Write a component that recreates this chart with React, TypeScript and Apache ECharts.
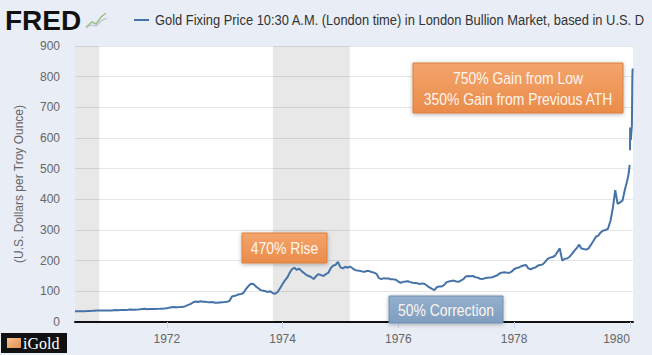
import React, { useEffect, useRef } from 'react';
import * as echarts from 'echarts';

const titleText = 'Gold Fixing Price 10:30 A.M. (London time) in London Bullion Market, based in U.S. D';
const yAxisName = '(U.S. Dollars per Troy Ounce)';
const xTickYears = [1972, 1974, 1976, 1978, 1980];

// half-monthly samples (1st and 16th of each month)
const p1970 = [35.4, 35.3, 35.3, 35.4, 35.4, 35.5, 35.9, 36.3, 36.9, 37.4, 37.5, 37.6, 37.4, 37.4]; // from June
const p1971 = [37.6, 37.9, 38.4, 38.8, 38.7, 38.9, 39.0, 39.2, 39.8, 40.8, 40.3, 40.1, 40.6, 41.5, 42.6, 43.1, 41.6, 42.0, 42.3, 42.7, 42.8, 43.0, 43.3, 43.8];
const p1972 = [44.8, 46.8, 48.0, 48.6, 48.2, 48.5, 49.0, 49.4, 52.5, 56.0, 59.0, 64.5, 66.8, 65.0, 67.6, 66.2, 65.8, 64.8, 64.5, 65.3, 63.0, 62.6, 63.6, 64.6];
const p1973 = [65.2, 66.0, 69.0, 83.0, 84.5, 87.0, 90.5, 91.0, 96.0, 108.0, 118.0, 125.0, 124.0, 116.0, 110.0, 104.0, 102.0, 100.0, 98.0, 100.5, 94.0, 92.0, 98.0, 110.0];
const p1974 = [124, 136, 146, 162, 172, 177, 170, 174, 166, 160, 153, 150, 146, 140, 150, 156, 153, 150, 156, 160, 176, 184, 186, 196];
const p1975 = [178, 175, 180, 177, 181, 176, 170, 168, 167, 165, 164, 166, 166, 163, 161, 157, 143, 140, 143, 142, 142, 139, 139, 138];
const p1976 = [132, 128, 131, 132, 133, 130, 128, 127, 126, 124, 126, 124, 118, 113, 108, 104, 114, 116, 116, 120, 130, 132, 134, 135];
const p1977 = [132, 131, 136, 140, 148, 150, 149, 150, 146, 145, 141, 140, 143, 144, 145, 146, 149, 152, 158, 161, 162, 161, 160, 164];
const p1978 = [172, 176, 178, 182, 184, 186, 175, 172, 176, 178, 184, 186, 188, 196, 206, 210, 212, 216, 228, 240, 200, 206, 207, 212];
const p1979 = [222, 232, 242, 252, 240, 238, 236, 240, 252, 264, 278, 282, 292, 298, 300, 304, 330, 372, 430, 385, 390, 396, 432, 462];

// final daily stretch
const finalDates = ['1979-12-24', '1979-12-31', '1980-01-01', '1980-01-02', '1980-01-03', '1980-01-07', '1980-01-10', '1980-01-14', '1980-01-16', '1980-01-17', '1980-01-18', '1980-01-21'];
const finalPrices: (number | null)[] = [482, 512, null, 560, 634, 593, 615, 640, 750, 800, 822, 826];

const recessionStarts = ['1970-06-01', '1973-11-01'];
const recessionEnds = ['1970-11-01', '1975-03-01'];

const yearBlocks: [number, number, number[]][] = [
  [1970, 6, p1970], [1971, 1, p1971], [1972, 1, p1972], [1973, 1, p1973], [1974, 1, p1974],
  [1975, 1, p1975], [1976, 1, p1976], [1977, 1, p1977], [1978, 1, p1978], [1979, 1, p1979],
];

function toYear(s: string): number {
  const d = new Date(s + 'T00:00:00Z');
  const y = d.getUTCFullYear();
  const start = Date.UTC(y, 0, 1);
  const end = Date.UTC(y + 1, 0, 1);
  return y + (d.getTime() - start) / (end - start);
}

function buildData(): [number, number | null][] {
  const out: [number, number | null][] = [];
  for (const [yr, m0, arr] of yearBlocks) {
    arr.forEach((v, i) => {
      const m = m0 + Math.floor(i / 2);
      const day = i % 2 ? 16 : 1;
      const s = `${yr}-${String(m).padStart(2, '0')}-${String(day).padStart(2, '0')}`;
      if (s < finalDates[0]) out.push([toYear(s), v]);
    });
  }
  finalDates.forEach((s, i) => out.push([toYear(s), finalPrices[i]]));
  return out;
}

const SANS = "'Liberation Sans', Arial, sans-serif";

function box(x: number, y: number, w: number, h: number, text: string, top: string, bottom: string, border: string, lineHeight = 20) {
  return {
    type: 'group',
    children: [
      {
        type: 'rect',
        shape: { x, y, width: w, height: h },
        style: {
          fill: new echarts.graphic.LinearGradient(0, 0, 0, 1, [
            { offset: 0, color: top },
            { offset: 1, color: bottom },
          ]),
          stroke: border,
          lineWidth: 1,
          shadowBlur: 4,
          shadowOffsetY: 1,
          shadowColor: 'rgba(0,0,0,0.3)',
        },
        z: 100,
      },
      {
        type: 'text',
        x: x + w / 2,
        y: y + h / 2,
        scaleX: 0.82,
        style: {
          text,
          fill: '#fdf6f0',
          font: `17px ${SANS}`,
          align: 'center',
          verticalAlign: 'middle',
          lineHeight,
        },
        z: 101,
      },
    ],
  };
}

export default function App() {
  const ref = useRef<HTMLDivElement>(null);
  useEffect(() => {
    if (!ref.current) return;
    const chart = echarts.init(ref.current, undefined, { renderer: 'svg' });
    const data = buildData();
    chart.setOption({
      animation: false,
      backgroundColor: '#e9edf5',
      grid: {
        left: 75, right: 19, top: 46, bottom: 33,
        show: true, backgroundColor: '#ffffff', borderWidth: 0,
      },
      xAxis: {
        type: 'value',
        min: toYear('1970-06-01'),
        max: toYear('1980-01-21'),
        splitLine: { show: false },
        axisLine: { show: true, onZero: true, lineStyle: { color: '#111', width: 2 } },
        axisTick: { show: true, customValues: xTickYears, length: 6, lineStyle: { color: '#ccd6eb' } },
        axisLabel: {
          customValues: xTickYears,
          formatter: (v: number) => String(Math.round(v)),
          color: '#666',
          fontSize: 12,
          fontFamily: SANS,
          margin: 11,
          alignMaxLabel: 'right',
        },
      },
      yAxis: {
        type: 'value',
        min: 0,
        max: 900,
        interval: 100,
        name: yAxisName,
        nameLocation: 'middle',
        nameGap: 50,
        nameTextStyle: { color: '#666', fontSize: 12, fontFamily: SANS },
        axisLine: { show: false },
        axisTick: { show: false },
        axisLabel: { color: '#666', fontSize: 12, fontFamily: SANS, margin: 15 },
        splitLine: { lineStyle: { color: '#e6e6e6' } },
      },
      series: [
        {
          type: 'line',
          data,
          showSymbol: false,
          connectNulls: false,
          lineStyle: { color: '#4572a7', width: 2 },
          markArea: {
            silent: true,
            itemStyle: { color: 'rgba(0,0,0,0.09)' },
            data: recessionStarts.map((s, i) => [
              { xAxis: toYear(s) },
              { xAxis: toYear(recessionEnds[i]) },
            ]),
          },
        },
      ],
      graphic: [
        {
          type: 'text', x: 5, y: 6,
          style: { text: 'FRED', font: `bold 28px ${SANS}`, fill: '#111' },
        },
        {
          type: 'polyline',
          shape: { points: [[86, 27], [92, 22], [96, 24], [101, 17], [106, 13]] },
          style: { stroke: '#9fbf8a', lineWidth: 1.5, fill: 'none' },
        },
        {
          type: 'polyline',
          shape: { points: [[86, 28], [91, 25], [96, 26], [101, 21], [107, 18]] },
          style: { stroke: '#b9c4cc', lineWidth: 1.2, fill: 'none' },
        },
        {
          type: 'line',
          shape: { x1: 134, y1: 20, x2: 149, y2: 20 },
          style: { stroke: '#4572a7', lineWidth: 2 },
        },
        {
          type: 'text', x: 155, y: 20, scaleX: 0.86,
          style: { text: titleText, font: `15px ${SANS}`, fill: '#333', verticalAlign: 'middle' },
        },
        box(242, 233, 85, 30, '470% Rise', '#f4a46c', '#ea8c4a', '#d98040'),
        box(389, 296, 114, 27, '50% Correction', '#93b0cd', '#7f9dbf', '#6f8fb3'),
        box(413, 63, 210, 50, '750% Gain from Low\n350% Gain from Previous ATH', '#f4a46c', '#ea8c4a', '#d98040', 21),
        {
          type: 'group',
          children: [
            { type: 'rect', shape: { x: 1, y: 333, width: 66, height: 20 }, style: { fill: '#111' } },
            {
              type: 'rect', shape: { x: 7, y: 338, width: 14, height: 10 },
              style: {
                fill: new echarts.graphic.LinearGradient(0, 0, 1, 1, [
                  { offset: 0, color: '#f7c28e' },
                  { offset: 1, color: '#e3904d' },
                ]),
              },
            },
            {
              type: 'text', x: 23, y: 343,
              style: { text: 'iGold', font: `16px 'Liberation Serif', 'DejaVu Serif', serif`, fill: '#fff', verticalAlign: 'middle' },
            },
          ],
        },
      ],
    });
    return () => chart.dispose();
  }, []);
  return <div ref={ref} style={{ position: 'fixed', left: 0, top: 0, width: 652, height: 355 }} />;
}
